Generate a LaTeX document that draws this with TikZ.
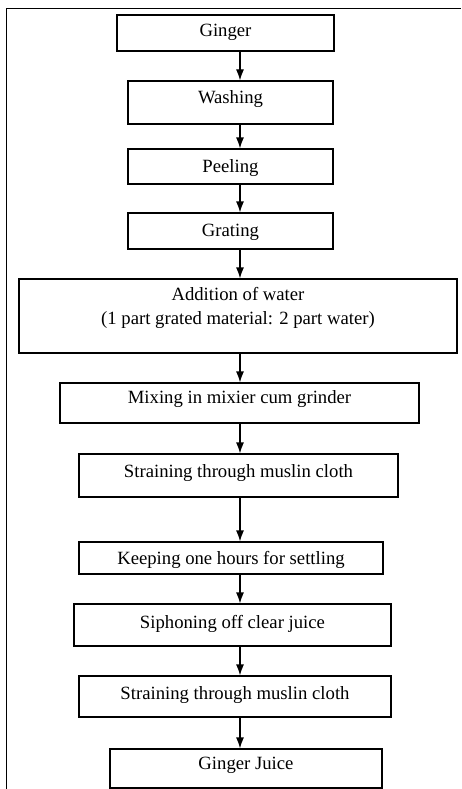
\documentclass[tikz,border=0pt]{standalone}
\usepackage{fontspec}
\setmainfont{Liberation Serif}
\usetikzlibrary{arrows.meta}

\def \arrowx {240}

\begin{document}
\begin{tikzpicture}[x=1pt, y=-1pt, font=\fontsize{18.7}{24}\selectfont,
  stepbox/.style={draw, line width=1.2pt, inner sep=0pt, align=center},
  lift/.style={text height=13pt, text depth=#1},
  flow/.style={->, >={Latex[length=11pt,width=8pt]}, line width=1.2pt}]
\useasboundingbox (0,0) rectangle (461,789);
\draw[line width=1pt] (6,789) -- (6,9) -- (461,9); % frame
\coordinate (axis) at (\arrowx,0);

\node[stepbox, lift=6pt, minimum width=217pt, minimum height=36pt] (ginger) at (225.5,33) {Ginger};
\node[stepbox, lift=11pt, minimum width=205pt, minimum height=43pt] (washing) at (230.5,102.5) {Washing};
\node[stepbox, lift=1pt, minimum width=205pt, minimum height=35pt] (peeling) at (230.5,166.5) {Peeling};
\node[stepbox, lift=2pt, minimum width=205pt, minimum height=36pt] (grating) at (230.5,231) {Grating};
\node[stepbox, minimum width=438pt, minimum height=74pt] (water) at (238,316)
  {Addition of water\\(1 part grated material: 2 part water)\\[-12pt] \strut};
\node[stepbox, lift=12pt, minimum width=359pt, minimum height=40pt] (mixing) at (239.5,403) {Mixing in mixier cum grinder};
\node[stepbox, lift=9pt, minimum width=319pt, minimum height=43pt] (strain) at (238.5,475.5) {Straining through muslin cloth};
\node[stepbox, lift=0pt, minimum width=304pt, minimum height=32pt] (settle) at (231,558) {Keeping one hours for settling};
\node[stepbox, lift=6pt, minimum width=317pt, minimum height=42pt] (siphon) at (232.5,625) {Siphoning off clear juice};
\node[stepbox, lift=7pt, minimum width=312pt, minimum height=41pt] (restrain) at (235,696.5) {Straining through muslin cloth};
\node[stepbox, lift=11pt, minimum width=272pt, minimum height=39pt] (juice) at (246,768.5) {Ginger Juice};

\foreach \a/\b in {ginger/washing, washing/peeling, peeling/grating, grating/water,
  water/mixing, mixing/strain, strain/settle, settle/siphon, siphon/restrain, restrain/juice}
  \draw[flow] (\a.south -| axis) -- (\b.north -| axis);
\end{tikzpicture}
\end{document}
